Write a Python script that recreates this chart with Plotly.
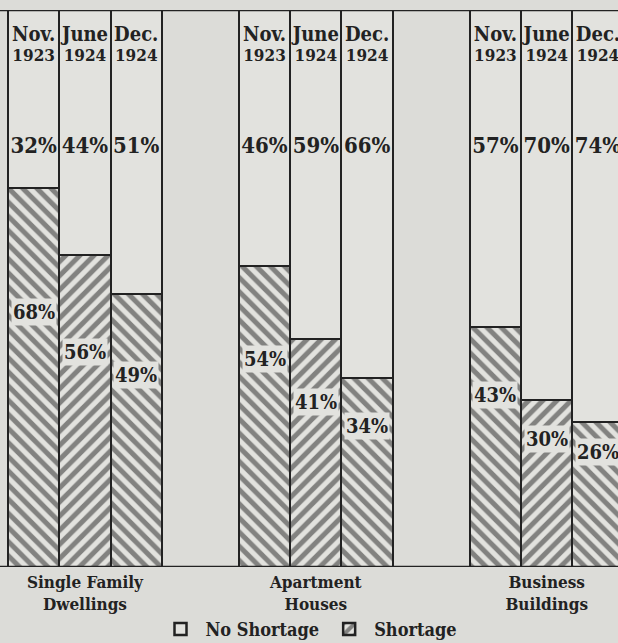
import plotly.graph_objects as go

groups = ["Single Family<br>Dwellings", "Apartment<br>Houses", "Business<br>Buildings"]
months = ["Nov.", "June", "Dec."]
years = ["1923", "1924", "1924"]
no_shortage = {
    "Nov.": [32, 46, 57],
    "June": [44, 59, 70],
    "Dec.": [51, 66, 74],
}
shortage = {
    "Nov.": [68, 54, 43],
    "June": [56, 41, 30],
    "Dec.": [49, 34, 26],
}

PAPER = "#dcdcd8"
LIGHT = "#e2e2de"
INK = "#222222"
FONT = "DejaVu Serif Condensed"
GROUP_STEP = 4.5
hatch = {"Nov.": "\\", "June": "/", "Dec.": "\\"}

fig = go.Figure()
for b, m in enumerate(months):
    xs = [g * GROUP_STEP + b for g in range(len(groups))]
    fig.add_trace(go.Bar(
        x=xs, y=shortage[m], width=1,
        name="Shortage", legendgroup="s", showlegend=(m == "June"), legendrank=2,
        marker=dict(color=PAPER, line=dict(color=INK, width=2.5),
                    pattern=dict(shape=hatch[m], fgcolor=INK, bgcolor=LIGHT,
                                 size=10, solidity=0.5)),
        hoverinfo="skip",
    ))
    fig.add_trace(go.Bar(
        x=xs, y=no_shortage[m], width=1,
        name="No Shortage", legendgroup="n", showlegend=(m == "Nov."), legendrank=1,
        marker=dict(color=LIGHT, line=dict(color=INK, width=2.5)),
        hoverinfo="skip",
    ))
    # header labels in the top part of each bar
    fig.add_trace(go.Scatter(
        x=xs, y=[95.4] * len(xs), mode="text", text=[m] * len(xs),
        textfont=dict(family=FONT, size=20, color=INK, weight="bold"),
        showlegend=False, hoverinfo="skip",
    ))
    fig.add_trace(go.Scatter(
        x=xs, y=[91.6] * len(xs), mode="text", text=[years[b]] * len(xs),
        textfont=dict(family=FONT, size=17, color=INK, weight="bold"),
        showlegend=False, hoverinfo="skip",
    ))
    fig.add_trace(go.Scatter(
        x=xs, y=[75.4] * len(xs), mode="text",
        text=[f"{v}%" for v in no_shortage[m]],
        textfont=dict(family=FONT, size=22, color=INK, weight="bold"),
        showlegend=False, hoverinfo="skip",
    ))
    for x, v in zip(xs, shortage[m]):
        fig.add_annotation(
            x=x, y=0.6 * v + 5, text=f"{v}%", showarrow=False,
            font=dict(family=FONT, size=20, color=INK, weight="bold"),
            bgcolor=LIGHT, borderpad=1,
        )

# frame lines across the full width at top and bottom
for yv in (0, 100):
    fig.add_shape(type="line", xref="paper", x0=0, x1=1, y0=yv, y1=yv,
                  line=dict(color=INK, width=2.5), layer="above")

fig.update_layout(
    width=618, height=643,
    barmode="stack", bargap=0,
    paper_bgcolor=PAPER, plot_bgcolor=PAPER,
    margin=dict(l=0, r=0, t=10, b=76, autoexpand=False),
    font=dict(family=FONT, color=INK),
    xaxis=dict(range=[-0.656, 11.39], showgrid=False, zeroline=False,
               automargin=False,
               tickvals=[g * GROUP_STEP + 1 for g in range(len(groups))],
               ticktext=groups, ticks="", ticklabelstandoff=3,
               tickfont=dict(family=FONT, size=17, color=INK, weight="bold")),
    yaxis=dict(range=[0, 100], visible=False, automargin=False),
    legend=dict(orientation="h", x=0.5, xanchor="center",
                yref="container", y=0.05, yanchor="top",
                font=dict(family=FONT, size=18, color=INK, weight="bold"),
                bgcolor="rgba(0,0,0,0)", itemwidth=40),
)

fig.write_html("out.html", config={"displayModeBar": False},
               post_script="document.body.style.margin='0';")
